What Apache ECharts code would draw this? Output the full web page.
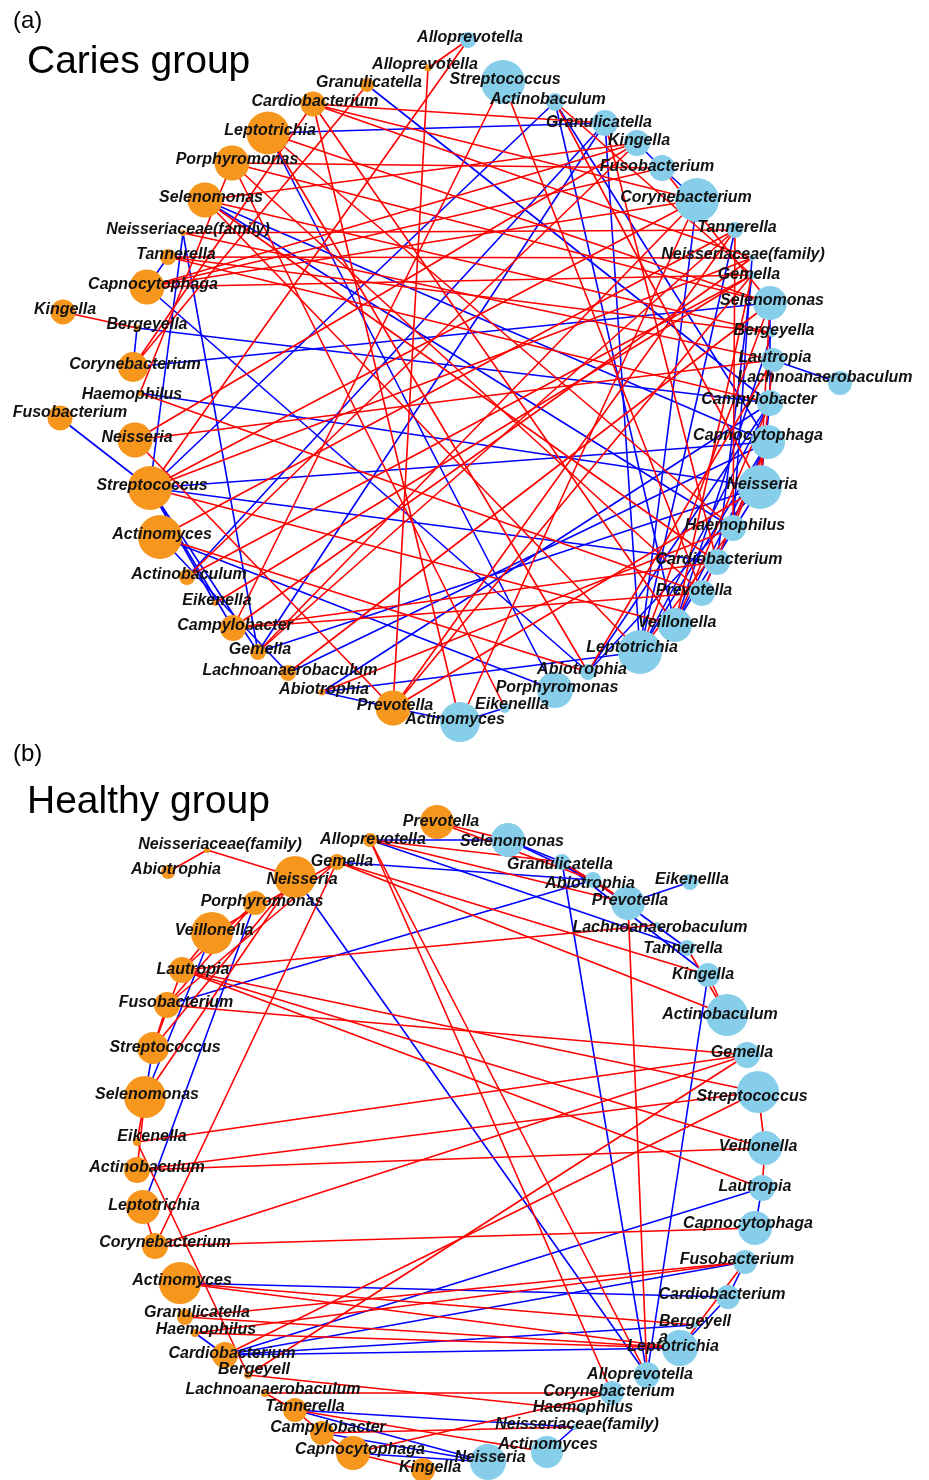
<!DOCTYPE html>
<html>
<head>
<meta charset="utf-8">
<title>Caries / Healthy co-occurrence networks</title>
<script src="https://cdn.jsdelivr.net/npm/echarts@6/dist/echarts.min.js"></script>
<style>
  html, body { margin: 0; padding: 0; background: #fff; }
  #chart { width: 929px; height: 1480px; }
</style>
</head>
<body>
<div id="chart"></div>
<script>
// ---- data: [genus, x, y, node size] in figure units ----
var cariesOrange = [
  ['Alloprevotella', 428, 68, 7], ['Granulicatella', 367, 85, 14], ['Cardiobacterium', 313, 104, 25],
  ['Leptotrichia', 268, 133, 43], ['Porphyromonas', 232, 163, 35], ['Selenomonas', 205, 200, 35],
  ['Neisseriaceae(family)', 183, 233, 6], ['Tannerella', 168, 257, 16], ['Capnocytophaga', 147, 287, 35],
  ['Kingella', 63, 312, 25], ['Bergeyella', 137, 328, 6], ['Corynebacterium', 133, 367, 30],
  ['Haemophilus', 140, 393, 6], ['Fusobacterium', 60, 418, 25], ['Neisseria', 135, 440, 35],
  ['Streptococcus', 150, 488, 44], ['Actinomyces', 160, 537, 44], ['Actinobaculum', 187, 577, 16],
  ['Eikenella', 215, 603, 6], ['Campylobacter', 233, 628, 26], ['Gemella', 258, 652, 16],
  ['Lachnoanaerobaculum', 288, 673, 16], ['Abiotrophia', 322, 692, 7], ['Prevotella', 393, 708, 35]
];
var cariesBlue = [
  ['Alloprevotella', 468, 40, 16], ['Streptococcus', 503, 82, 44], ['Actinobaculum', 555, 102, 18],
  ['Granulicatella', 605, 123, 26], ['Kingella', 637, 143, 26], ['Fusobacterium', 662, 168, 26],
  ['Corynebacterium', 697, 200, 44], ['Tannerella', 735, 230, 16], ['Neisseriaceae(family)', 752, 258, 6],
  ['Gemella', 752, 275, 8], ['Selenomonas', 770, 303, 34], ['Bergeyella', 772, 333, 8],
  ['Lautropia', 773, 360, 24], ['Lachnoanaerobaculum', 840, 383, 24], ['Campylobacter', 770, 403, 26],
  ['Capnocytophaga', 768, 442, 34], ['Neisseria', 760, 487, 44], ['Haemophilus', 733, 528, 26],
  ['Cardiobacterium', 717, 562, 26], ['Prevotella', 702, 593, 26], ['Veillonella', 675, 625, 34],
  ['Leptotrichia', 640, 652, 44], ['Abiotrophia', 588, 672, 16], ['Porphyromonas', 555, 690, 36],
  ['Eikenellla', 505, 708, 10], ['Actinomyces', 460, 722, 40]
];
var healthyOrange = [
  ['Prevotella', 437, 822, 34], ['Alloprevotella', 370, 840, 14], ['Neisseriaceae(family)', 207, 850, 6],
  ['Abiotrophia', 168, 872, 14], ['Gemella', 337, 862, 16], ['Neisseria', 295, 877, 42],
  ['Porphyromonas', 255, 903, 24], ['Veillonella', 212, 933, 42], ['Lautropia', 182, 970, 26],
  ['Fusobacterium', 167, 1005, 26], ['Streptococcus', 153, 1048, 32], ['Selenomonas', 145, 1097, 42],
  ['Eikenella', 137, 1142, 8], ['Actinobaculum', 137, 1170, 26], ['Leptotrichia', 143, 1207, 34],
  ['Corynebacterium', 155, 1246, 26], ['Actinomyces', 180, 1283, 42], ['Granulicatella', 185, 1317, 16],
  ['Haemophilus', 195, 1333, 8], ['Cardiobacterium', 225, 1355, 26], ['Bergeyell', 248, 1375, 8],
  ['Lachnoanaerobaculum', 265, 1393, 8], ['Tannerella', 295, 1410, 24], ['Campylobacter', 322, 1433, 24],
  ['Capnocytophaga', 353, 1453, 34], ['Kingella', 423, 1470, 24]
];
var healthyBlue = [
  ['Selenomonas', 508, 840, 34], ['Granulicatella', 562, 862, 16], ['Abiotrophia', 593, 880, 16],
  ['Eikenellla', 690, 882, 16], ['Prevotella', 628, 903, 34], ['Lachnoanaerobaculum', 657, 925, 6],
  ['Tannerella', 687, 948, 16], ['Kingella', 708, 975, 24], ['Actinobaculum', 727, 1015, 42],
  ['Gemella', 747, 1055, 26], ['Streptococcus', 758, 1092, 42], ['Veillonella', 765, 1148, 34],
  ['Lautropia', 762, 1188, 26], ['Capnocytophaga', 755, 1228, 34], ['Fusobacterium', 745, 1262, 24],
  ['Cardiobacterium', 728, 1297, 24], ['Bergeyella', 695, 1325, 6], ['Leptotrichia', 680, 1348, 36],
  ['Alloprevotella', 647, 1375, 26], ['Corynebacterium', 612, 1393, 24], ['Haemophilus', 583, 1410, 6],
  ['Neisseriaceae(family)', 575, 1427, 6], ['Actinomyces', 547, 1452, 32], ['Neisseria', 488, 1462, 36]
];

// edges, o: = orange genus, b: = blue genus
var cariesPositive = [
  ['b:Alloprevotella', 'o:Alloprevotella'], ['o:Alloprevotella', 'o:Prevotella'],
  ['o:Cardiobacterium', 'b:Actinomyces'], ['o:Cardiobacterium', 'b:Granulicatella'],
  ['o:Cardiobacterium', 'b:Neisseriaceae(family)'], ['o:Cardiobacterium', 'b:Veillonella'],
  ['o:Cardiobacterium', 'b:Corynebacterium'], ['o:Leptotrichia', 'b:Selenomonas'],
  ['o:Leptotrichia', 'b:Haemophilus'], ['o:Leptotrichia', 'b:Abiotrophia'],
  ['o:Porphyromonas', 'b:Eikenellla'], ['o:Porphyromonas', 'b:Prevotella'],
  ['o:Porphyromonas', 'b:Selenomonas'], ['o:Porphyromonas', 'b:Fusobacterium'],
  ['o:Porphyromonas', 'o:Haemophilus'], ['o:Selenomonas', 'b:Bergeyella'],
  ['o:Selenomonas', 'b:Cardiobacterium'], ['o:Selenomonas', 'b:Leptotrichia'],
  ['o:Selenomonas', 'b:Kingella'], ['o:Neisseriaceae(family)', 'b:Tannerella'],
  ['o:Neisseriaceae(family)', 'b:Lautropia'], ['o:Tannerella', 'b:Neisseriaceae(family)'],
  ['o:Tannerella', 'b:Campylobacter'], ['o:Tannerella', 'b:Bergeyella'],
  ['o:Capnocytophaga', 'b:Kingella'], ['o:Capnocytophaga', 'b:Fusobacterium'],
  ['o:Capnocytophaga', 'b:Gemella'], ['o:Capnocytophaga', 'b:Corynebacterium'],
  ['o:Kingella', 'o:Bergeyella'], ['o:Corynebacterium', 'o:Cardiobacterium'],
  ['o:Corynebacterium', 'o:Granulicatella'], ['o:Haemophilus', 'b:Prevotella'],
  ['o:Neisseria', 'b:Kingella'], ['o:Neisseria', 'o:Prevotella'], ['o:Neisseria', 'b:Lautropia'],
  ['o:Streptococcus', 'b:Veillonella'], ['o:Streptococcus', 'b:Alloprevotella'],
  ['o:Streptococcus', 'b:Corynebacterium'], ['o:Streptococcus', 'b:Neisseriaceae(family)'],
  ['o:Actinomyces', 'b:Abiotrophia'], ['o:Actinomyces', 'b:Tannerella'],
  ['o:Actinobaculum', 'b:Kingella'], ['o:Actinobaculum', 'b:Gemella'], ['o:Eikenella', 'b:Gemella'],
  ['o:Campylobacter', 'b:Prevotella'], ['o:Campylobacter', 'b:Streptococcus'],
  ['o:Campylobacter', 'b:Neisseriaceae(family)'], ['o:Campylobacter', 'b:Cardiobacterium'],
  ['o:Gemella', 'b:Corynebacterium'], ['o:Gemella', 'b:Tannerella'],
  ['o:Lachnoanaerobaculum', 'b:Selenomonas'], ['o:Abiotrophia', 'b:Haemophilus'],
  ['o:Prevotella', 'b:Tannerella'], ['o:Prevotella', 'b:Gemella'], ['o:Prevotella', 'b:Neisseria'],
  ['b:Streptococcus', 'b:Prevotella'], ['b:Actinobaculum', 'b:Gemella'],
  ['b:Actinobaculum', 'b:Neisseria'],
  ['b:Granulicatella', 'b:Cardiobacterium'], ['b:Fusobacterium', 'b:Selenomonas'],
  ['b:Corynebacterium', 'b:Actinomyces'], ['b:Selenomonas', 'b:Neisseria'],
  ['b:Lautropia', 'b:Neisseria'], ['b:Capnocytophaga', 'b:Haemophilus'],
  ['b:Capnocytophaga', 'b:Prevotella'], ['b:Haemophilus', 'b:Leptotrichia'],
  ['b:Veillonella', 'b:Campylobacter'], ['b:Leptotrichia', 'b:Selenomonas'],
  ['b:Tannerella', 'b:Haemophilus'], ['b:Gemella', 'b:Veillonella'],
  ['b:Abiotrophia', 'b:Lautropia']
];
var cariesNegative = [
  ['o:Granulicatella', 'b:Campylobacter'], ['o:Leptotrichia', 'b:Granulicatella'],
  ['o:Leptotrichia', 'b:Porphyromonas'], ['o:Selenomonas', 'b:Haemophilus'],
  ['o:Selenomonas', 'b:Capnocytophaga'], ['o:Neisseriaceae(family)', 'o:Streptococcus'],
  ['o:Neisseriaceae(family)', 'o:Gemella'], ['o:Tannerella', 'o:Capnocytophaga'],
  ['o:Bergeyella', 'o:Corynebacterium'], ['o:Bergeyella', 'b:Campylobacter'],
  ['o:Corynebacterium', 'b:Selenomonas'], ['o:Fusobacterium', 'o:Streptococcus'],
  ['o:Streptococcus', 'b:Capnocytophaga'], ['o:Streptococcus', 'b:Cardiobacterium'],
  ['o:Streptococcus', 'b:Actinobaculum'], ['o:Streptococcus', 'o:Campylobacter'],
  ['o:Streptococcus', 'o:Gemella'], ['o:Streptococcus', 'o:Eikenella'],
  ['o:Actinomyces', 'b:Porphyromonas'], ['o:Actinomyces', 'o:Lachnoanaerobaculum'],
  ['o:Actinobaculum', 'b:Granulicatella'], ['o:Gemella', 'b:Neisseria'],
  ['o:Gemella', 'b:Granulicatella'], ['o:Capnocytophaga', 'b:Abiotrophia'],
  ['o:Lachnoanaerobaculum', 'b:Capnocytophaga'], ['o:Abiotrophia', 'b:Leptotrichia'],
  ['o:Abiotrophia', 'b:Campylobacter'],
  ['o:Abiotrophia', 'o:Prevotella'], ['o:Prevotella', 'b:Actinomyces'],
  ['o:Haemophilus', 'b:Neisseria'], ['b:Actinobaculum', 'b:Capnocytophaga'],
  ['b:Actinobaculum', 'b:Veillonella'],
  ['b:Fusobacterium', 'b:Kingella'], ['b:Fusobacterium', 'b:Corynebacterium'],
  ['b:Corynebacterium', 'b:Leptotrichia'], ['b:Tannerella', 'b:Leptotrichia'],
  ['b:Neisseriaceae(family)', 'b:Haemophilus'], ['b:Gemella', 'b:Cardiobacterium'],
  ['b:Selenomonas', 'b:Campylobacter'], ['b:Bergeyella', 'b:Veillonella'],
  ['b:Lautropia', 'b:Lachnoanaerobaculum'], ['b:Campylobacter', 'b:Neisseria'],
  ['b:Campylobacter', 'b:Leptotrichia'], ['b:Neisseria', 'b:Abiotrophia'],
  ['b:Prevotella', 'b:Capnocytophaga'], ['b:Veillonella', 'b:Neisseria'],
  ['b:Veillonella', 'b:Capnocytophaga'], ['b:Abiotrophia', 'b:Campylobacter'],
  ['b:Leptotrichia', 'b:Capnocytophaga'],
  ['b:Eikenellla', 'b:Actinomyces'], ['b:Granulicatella', 'b:Leptotrichia']
];
var healthyPositive = [
  ['o:Neisseriaceae(family)', 'o:Abiotrophia'], ['o:Neisseriaceae(family)', 'o:Neisseria'],
  ['o:Alloprevotella', 'b:Granulicatella'], ['o:Alloprevotella', 'b:Alloprevotella'],
  ['o:Alloprevotella', 'b:Corynebacterium'], ['o:Alloprevotella', 'b:Prevotella'],
  ['o:Prevotella', 'b:Selenomonas'], ['o:Prevotella', 'b:Abiotrophia'],
  ['o:Gemella', 'b:Actinobaculum'], ['o:Gemella', 'b:Kingella'], ['o:Gemella', 'o:Corynebacterium'],
  ['o:Gemella', 'o:Fusobacterium'], ['o:Gemella', 'o:Veillonella'],
  ['o:Neisseria', 'o:Selenomonas'], ['o:Neisseria', 'o:Streptococcus'],
  ['o:Porphyromonas', 'o:Fusobacterium'], ['o:Porphyromonas', 'o:Lautropia'],
  ['o:Veillonella', 'o:Lautropia'], ['o:Lautropia', 'b:Veillonella'], ['o:Lautropia', 'b:Lautropia'],
  ['o:Lautropia', 'b:Streptococcus'], ['o:Lautropia', 'b:Lachnoanaerobaculum'],
  ['o:Lautropia', 'o:Streptococcus'], ['o:Fusobacterium', 'b:Gemella'],
  ['o:Fusobacterium', 'o:Streptococcus'], ['o:Selenomonas', 'o:Eikenella'],
  ['o:Selenomonas', 'o:Actinobaculum'], ['o:Eikenella', 'b:Gemella'], ['o:Eikenella', 'o:Bergeyell'],
  ['o:Actinobaculum', 'b:Streptococcus'], ['o:Actinobaculum', 'b:Veillonella'],
  ['o:Leptotrichia', 'o:Corynebacterium'], ['o:Corynebacterium', 'b:Gemella'],
  ['o:Corynebacterium', 'b:Capnocytophaga'], ['o:Actinomyces', 'b:Bergeyella'],
  ['o:Actinomyces', 'b:Leptotrichia'], ['o:Granulicatella', 'b:Fusobacterium'],
  ['o:Granulicatella', 'b:Leptotrichia'], ['o:Haemophilus', 'b:Leptotrichia'],
  ['o:Haemophilus', 'b:Fusobacterium'], ['o:Cardiobacterium', 'b:Streptococcus'],
  ['o:Bergeyell', 'b:Gemella'], ['o:Bergeyell', 'b:Haemophilus'],
  ['o:Lachnoanaerobaculum', 'o:Tannerella'], ['o:Lachnoanaerobaculum', 'b:Corynebacterium'],
  ['o:Tannerella', 'o:Campylobacter'], ['o:Tannerella', 'b:Actinomyces'],
  ['o:Campylobacter', 'o:Capnocytophaga'], ['o:Campylobacter', 'b:Neisseriaceae(family)'],
  ['o:Capnocytophaga', 'o:Kingella'], ['o:Capnocytophaga', 'b:Corynebacterium'],
  ['b:Abiotrophia', 'b:Prevotella'], ['b:Granulicatella', 'b:Prevotella'],
  ['b:Prevotella', 'b:Alloprevotella'], ['b:Kingella', 'b:Actinobaculum'],
  ['b:Tannerella', 'b:Actinobaculum'], ['b:Streptococcus', 'b:Veillonella'],
  ['b:Veillonella', 'b:Lautropia'], ['b:Fusobacterium', 'b:Leptotrichia']
];
var healthyNegative = [
  ['o:Alloprevotella', 'b:Selenomonas'], ['o:Alloprevotella', 'b:Tannerella'],
  ['o:Gemella', 'b:Abiotrophia'], ['o:Neisseria', 'b:Alloprevotella'],
  ['o:Porphyromonas', 'o:Leptotrichia'], ['o:Veillonella', 'o:Selenomonas'],
  ['o:Streptococcus', 'o:Selenomonas'], ['b:Abiotrophia', 'o:Fusobacterium'],
  ['b:Selenomonas', 'b:Granulicatella'], ['b:Selenomonas', 'b:Abiotrophia'],
  ['b:Granulicatella', 'b:Kingella'], ['b:Granulicatella', 'b:Alloprevotella'],
  ['b:Abiotrophia', 'b:Tannerella'], ['b:Prevotella', 'b:Eikenellla'],
  ['b:Kingella', 'b:Alloprevotella'], ['b:Lautropia', 'b:Capnocytophaga'],
  ['b:Lautropia', 'o:Cardiobacterium'], ['b:Cardiobacterium', 'b:Leptotrichia'],
  ['b:Fusobacterium', 'b:Cardiobacterium'], ['o:Actinomyces', 'b:Cardiobacterium'],
  ['o:Haemophilus', 'o:Cardiobacterium'], ['o:Cardiobacterium', 'b:Fusobacterium'],
  ['o:Cardiobacterium', 'b:Bergeyella'], ['o:Cardiobacterium', 'b:Leptotrichia'],
  ['o:Tannerella', 'b:Neisseriaceae(family)'], ['o:Tannerella', 'b:Neisseria'],
  ['o:Campylobacter', 'b:Neisseria'], ['o:Capnocytophaga', 'b:Neisseria'],
  ['b:Actinomyces', 'b:Neisseriaceae(family)']
];

// ---- styling ----
var ORANGE = '#F7961D';
var SKY = '#87CEEB';
var RED = '#FF0000';
var BLUE = '#0000FF';
var LABEL_SHIFT = [2, -2];
// label nudges where the label does not sit on its node
var cariesNudge = {
  'o:Haemophilus': [-8, 2], 'o:Fusobacterium': [10, -5], 'o:Bergeyella': [10, -3],
  'o:Tannerella': [8, -2], 'o:Capnocytophaga': [6, -2], 'o:Selenomonas': [6, -2],
  'o:Porphyromonas': [5, -3], 'o:Neisseriaceae(family)': [5, -3], 'o:Alloprevotella': [-3, -3],
  'b:Lachnoanaerobaculum': [-15, -5], 'b:Corynebacterium': [-11, -2], 'b:Campylobacter': [-11, -3],
  'b:Capnocytophaga': [-10, -6], 'b:Actinobaculum': [-7, -2], 'b:Granulicatella': [-6, 0],
  'b:Fusobacterium': [-5, -1], 'b:Prevotella': [-8, -2], 'b:Leptotrichia': [-8, -4],
  'b:Abiotrophia': [-6, -2], 'b:Eikenellla': [7, -3], 'b:Actinomyces': [-5, -2],
  'b:Neisseriaceae(family)': [-9, -3], 'b:Gemella': [-3, 0]
};
var healthyNudge = {
  'o:Neisseriaceae(family)': [13, -5], 'o:Abiotrophia': [8, -2], 'o:Neisseria': [7, 3],
  'o:Porphyromonas': [7, -1], 'o:Lautropia': [11, 0], 'o:Fusobacterium': [9, -2],
  'o:Streptococcus': [12, 0], 'o:Eikenella': [15, -5], 'o:Actinobaculum': [10, -2],
  'o:Leptotrichia': [11, -1], 'o:Corynebacterium': [10, -3], 'o:Granulicatella': [12, -4],
  'o:Haemophilus': [11, -3], 'o:Cardiobacterium': [7, -1], 'o:Bergeyell': [6, -5],
  'o:Lachnoanaerobaculum': [8, -3], 'o:Tannerella': [10, -3], 'o:Campylobacter': [6, -5],
  'o:Capnocytophaga': [7, -3], 'o:Kingella': [7, -2], 'o:Gemella': [5, 0],
  'o:Prevotella': [4, 0], 'o:Alloprevotella': [3, 0],
  'b:Selenomonas': [4, 2], 'b:Granulicatella': [-2, 3], 'b:Abiotrophia': [-3, 4],
  'b:Lachnoanaerobaculum': [3, 3], 'b:Tannerella': [-4, 1], 'b:Kingella': [-5, 0],
  'b:Actinobaculum': [-7, 0], 'b:Gemella': [-5, -2], 'b:Streptococcus': [-6, 5],
  'b:Veillonella': [-7, -1], 'b:Lautropia': [-7, -1], 'b:Capnocytophaga': [-7, -4],
  'b:Fusobacterium': [-8, -2], 'b:Cardiobacterium': [-6, -2], 'b:Bergeyella': [0, 5],
  'b:Leptotrichia': [-7, -1], 'b:Alloprevotella': [-7, 0], 'b:Corynebacterium': [-3, -1],
  'b:Haemophilus': [0, -2], 'b:Actinomyces': [1, -7], 'b:Neisseria': [2, -4]
};

function nodesOf(rows, prefix, color, nudge) {
  return rows.map(function (r) {
    var id = prefix + r[0];
    return {
      id: id,
      name: r[0],
      value: [r[1], r[2]],
      symbolSize: r[3],
      itemStyle: { color: color },
      label: { offset: nudge[id] || LABEL_SHIFT }
    };
  });
}

function linksOf(pairs, color) {
  return pairs.map(function (p) {
    return { source: p[0], target: p[1], lineStyle: { color: color } };
  });
}

function networkSeries(orange, blue, pos, neg, nudge) {
  var nodes = nodesOf(orange, 'o:', ORANGE, nudge).concat(nodesOf(blue, 'b:', SKY, nudge));
  var ids = {};
  nodes.forEach(function (n) { ids[n.id] = true; });
  pos.concat(neg).forEach(function (p) {
    if (!ids[p[0]] || !ids[p[1]]) console.warn('unknown node in edge', p);
  });
  return {
    type: 'graph',
    layout: 'none',
    coordinateSystem: 'cartesian2d',
    xAxisIndex: 0,
    yAxisIndex: 0,
    symbol: 'circle',
    silent: true,
    data: nodes,
    links: linksOf(neg, BLUE).concat(linksOf(pos, RED)),
    lineStyle: { width: 1.6, opacity: 1, curveness: 0 },
    label: {
      show: true,
      position: 'inside',
      color: '#111',
      fontFamily: '"Liberation Sans", Arial, sans-serif',
      fontStyle: 'italic',
      fontWeight: 'bold',
      fontSize: 16,
      formatter: function (p) {
        if (p.data.id === 'b:Bergeyella' && p.seriesIndex === 1) return 'Bergeyell\n{l|a}';
        return p.name;
      },
      rich: { l: { align: 'left', fontStyle: 'italic', fontWeight: 'bold', fontSize: 16, color: '#111' } }
    },
    emphasis: { disabled: true }
  };
}

var chart = echarts.init(document.getElementById('chart'), null, { renderer: 'canvas' });

var titleFont = '"Liberation Sans", Arial, sans-serif';
chart.setOption({
  backgroundColor: '#fff',
  animation: false,
  title: [
    { text: '(a)', left: 8, top: 4, textStyle: { fontFamily: titleFont, fontSize: 24, fontWeight: 'normal', color: '#000' } },
    { text: 'Caries group', left: 22, top: 38, textStyle: { fontFamily: titleFont, fontSize: 39, fontWeight: 'normal', color: '#000' } },
    { text: '(b)', left: 8, top: 737, textStyle: { fontFamily: titleFont, fontSize: 24, fontWeight: 'normal', color: '#000' } },
    { text: 'Healthy group', left: 22, top: 778, textStyle: { fontFamily: titleFont, fontSize: 39, fontWeight: 'normal', color: '#000' } }
  ],
  grid: { left: 0, right: 0, top: 0, bottom: 0 },
  xAxis: { type: 'value', min: 0, max: 929, show: false },
  yAxis: { type: 'value', min: 0, max: 1480, inverse: true, show: false },
  series: [
    networkSeries(cariesOrange, cariesBlue, cariesPositive, cariesNegative, cariesNudge),
    networkSeries(healthyOrange, healthyBlue, healthyPositive, healthyNegative, healthyNudge)
  ]
});
</script>
</body>
</html>
